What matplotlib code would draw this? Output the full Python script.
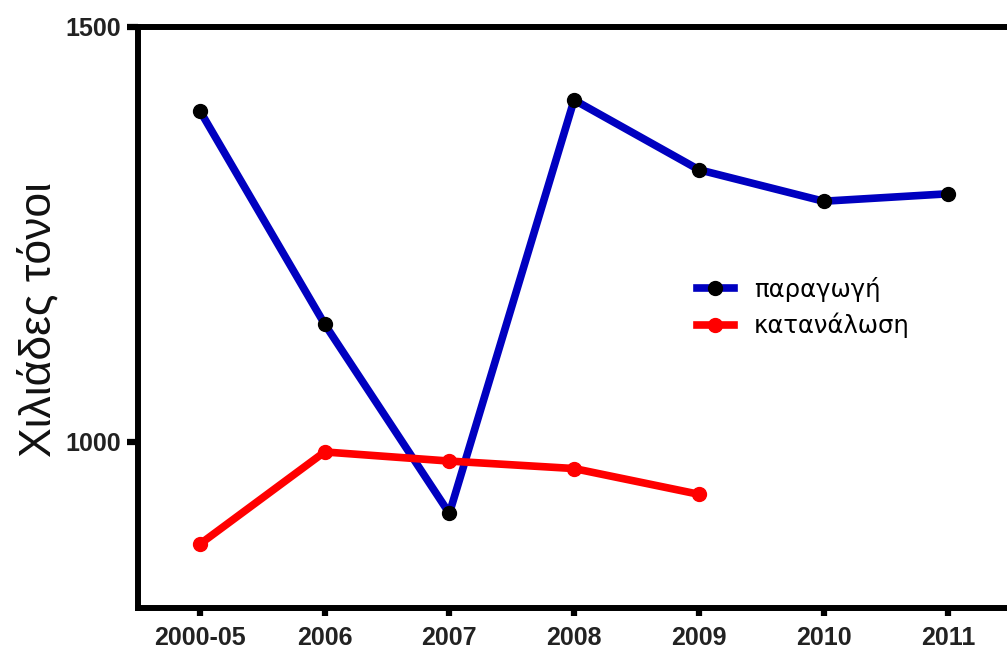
import numpy as np
import matplotlib
matplotlib.use("Agg")
import matplotlib.pyplot as plt

# δεδομένα (διαβασμένα από το γράφημα)
years = ["2000-05", "2006", "2007", "2008", "2009", "2010", "2011"]
production = [1399, 1142, 914, 1412, 1328, 1290, 1299]
consumption = [877, 988, 977, 968, 937]

plt.rcParams['font.family'] = ['Liberation Sans', 'DejaVu Sans']

fig = plt.figure(figsize=(10.07, 6.5), dpi=100)
ax = fig.add_axes([0.1366, 0.0646, 0.867, 0.894])

x = np.arange(len(years))
ax.plot(x, production, color='#0000c0', linewidth=5.5, marker='o',
        markersize=10, markerfacecolor='black', markeredgecolor='black',
        label='παραγωγή', zorder=3)
ax.plot(x[:len(consumption)], consumption, color='#ff0000', linewidth=5.5,
        marker='o', markersize=10, markerfacecolor='#ff0000',
        markeredgecolor='#ff0000', label='κατανάλωση', zorder=3)

ax.set_xlim(-0.5, 6.5)
ax.set_ylim(800, 1500)
ax.set_xticks(x)
ax.set_xticklabels(years, fontsize=18, fontweight='bold', color='#222222')
ax.set_yticks([1000, 1500])
ax.set_yticklabels(['1000', '1500'], fontsize=18, fontweight='bold', color='#222222')
ax.tick_params(axis='x', direction='out', length=6, width=4.5, pad=7)
ax.tick_params(axis='y', direction='out', length=8, width=4.5, pad=4)

for s in ax.spines.values():
    s.set_linewidth(4.3)

# τίτλος άξονα y
fig.text(39 / 1007, 0.5077, 'Χιλιάδες τόνοι', rotation=90, fontsize=32,
         ha='center', va='center', color='#111111')

ax.legend(loc='center left', bbox_to_anchor=(0.670, 0.527), frameon=False,
          prop={'family': 'DejaVu Sans', 'size': 17.5},
          handlelength=1.55, handletextpad=0.8, labelspacing=0.45,
          bbox_transform=fig.transFigure)

fig.savefig('out.png', dpi=100)
